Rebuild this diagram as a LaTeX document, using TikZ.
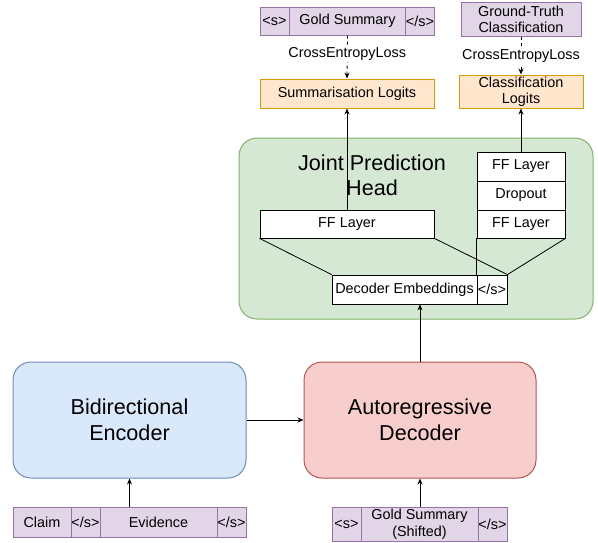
\documentclass[tikz,border=0pt]{standalone}
\usepackage{fontspec}
\setmainfont{Liberation Sans}
\usetikzlibrary{arrows.meta,positioning}
\definecolor{pfill}{HTML}{E1D5E7}\definecolor{pdraw}{HTML}{9673A6}
\definecolor{ofill}{HTML}{FFE6CC}\definecolor{odraw}{HTML}{D79B00}
\definecolor{gfill}{HTML}{D5E8D4}\definecolor{gdraw}{HTML}{82B366}
\definecolor{bfill}{HTML}{DAE8FC}\definecolor{bdraw}{HTML}{6C8EBF}
\definecolor{rfill}{HTML}{F8CECC}\definecolor{rdraw}{HTML}{B85450}
\tikzset{
  base/.style={rectangle, inner sep=0pt, line width=1pt, align=center,
    font=\fontsize{14.4}{17}\selectfont},
  pbox/.style={base, draw=pdraw, fill=pfill},
  obox/.style={base, draw=odraw, fill=ofill},
  wbox/.style={base, draw=black, fill=white, line width=0.8pt},
  bigbox/.style={rectangle, rounded corners=18pt, inner sep=0pt, line width=1pt,
    align=center, font=\fontsize{21.6}{26}\selectfont},
  arr/.style={-{Stealth[length=6pt,width=5pt]}, line width=0.8pt},
  dasharr/.style={arr, dash pattern=on 3pt off 3pt},
  plain/.style={line width=0.8pt},
  lbl/.style={fill=white, inner sep=1pt, font=\fontsize{14.4}{17}\selectfont}
}
\begin{document}
\begin{tikzpicture}[x=1pt,y=-1pt]
\useasboundingbox (0,0) rectangle (598,542);
% green head
\node[bigbox, draw=gdraw, fill=gfill, minimum width=354pt, minimum height=181pt] (head) at (416,228.5) {};
\node[font=\fontsize{21.6}{25}\selectfont, align=center, inner sep=0pt] (headlbl) at (372,175.5) {Joint Prediction\\Head};
% top targets
\node[pbox, minimum width=29pt, minimum height=28pt] (gs1) at (274.5,21) {<s>};
\node[pbox, minimum width=117pt, minimum height=28pt] (gsum) at (347.5,21) {Gold Summary};
\node[pbox, minimum width=28pt, minimum height=28pt] (gs3) at (420,21) {</s>};
\node[pbox, minimum width=120pt, minimum height=34pt, font=\fontsize{14.4}{16.3}\selectfont] (gt) at (521,19) {Ground-Truth\\Classification};
% logits
\node[obox, minimum width=174pt, minimum height=29pt] (sl) at (347,93.5) {Summarisation Logits};
\node[obox, minimum width=124pt, minimum height=33pt, font=\fontsize{14.4}{16.3}\selectfont] (cl) at (521,91.5) {Classification\\Logits};
% layers
\node[wbox, minimum width=174pt, minimum height=28pt] (lff) at (347,224) {FF Layer};
\node[wbox, minimum width=88pt, minimum height=29pt] (rff1) at (521,166.5) {FF Layer};
\node[wbox, minimum width=88pt, minimum height=29pt] (rdrop) at (521,195.5) {Dropout};
\node[wbox, minimum width=88pt, minimum height=28pt] (rff2) at (521,224) {FF Layer};
\node[wbox, minimum width=145pt, minimum height=29pt] (de) at (404.5,289.5) {Decoder Embeddings};
\node[wbox, minimum width=30pt, minimum height=29pt] (deos) at (492,289.5) {</s>};
% encoder / decoder
\node[bigbox, draw=bdraw, fill=bfill, minimum width=233pt, minimum height=116pt] (enc) at (129.5,420) {Bidirectional\\Encoder};
\node[bigbox, draw=rdraw, fill=rfill, minimum width=232pt, minimum height=116pt] (dec) at (420,420) {Autoregressive\\Decoder};
% inputs
\node[pbox, minimum width=58pt, minimum height=30pt] (claim) at (42,522) {Claim};
\node[pbox, minimum width=29pt, minimum height=30pt] (eos1) at (85.5,522) {</s>};
\node[pbox, minimum width=117pt, minimum height=30pt] (evid) at (158.5,522) {Evidence};
\node[pbox, minimum width=29pt, minimum height=30pt] (eos2) at (231.5,522) {</s>};
\node[pbox, minimum width=29pt, minimum height=34pt] (bos3) at (346.5,524) {<s>};
\node[pbox, minimum width=117pt, minimum height=34pt] (gss) at (419.5,524) {Gold Summary\\(Shifted)};
\node[pbox, minimum width=29pt, minimum height=34pt] (eos3) at (492.5,524) {</s>};
% connectors
\draw[dasharr] (gsum.south) -- node[lbl, pos=0.43] (cel1) {CrossEntropyLoss} (sl.north);
\draw[dasharr] (gt.south) -- node[lbl, pos=0.52] (cel2) {CrossEntropyLoss} (cl.north);
\draw[arr] (lff.north) -- (sl.south);
\draw[arr] (rff1.north) -- (cl.south);
\draw[plain] (lff.south west) -- (de.north west);
\draw[plain] (lff.south east) -- (deos.north east);
\draw[plain] (rff2.south east) -- (deos.north east);
\draw[plain] (rff2.south west) -- (deos.north west);
\draw[arr] (dec.north) -- (dec.north |- de.south);
\draw[arr] (enc.east) -- (dec.west);
\draw[arr] (enc.south |- evid.north) -- (enc.south);
\draw[arr] (dec.south |- gss.north) -- (dec.south);
\end{tikzpicture}
\end{document}
